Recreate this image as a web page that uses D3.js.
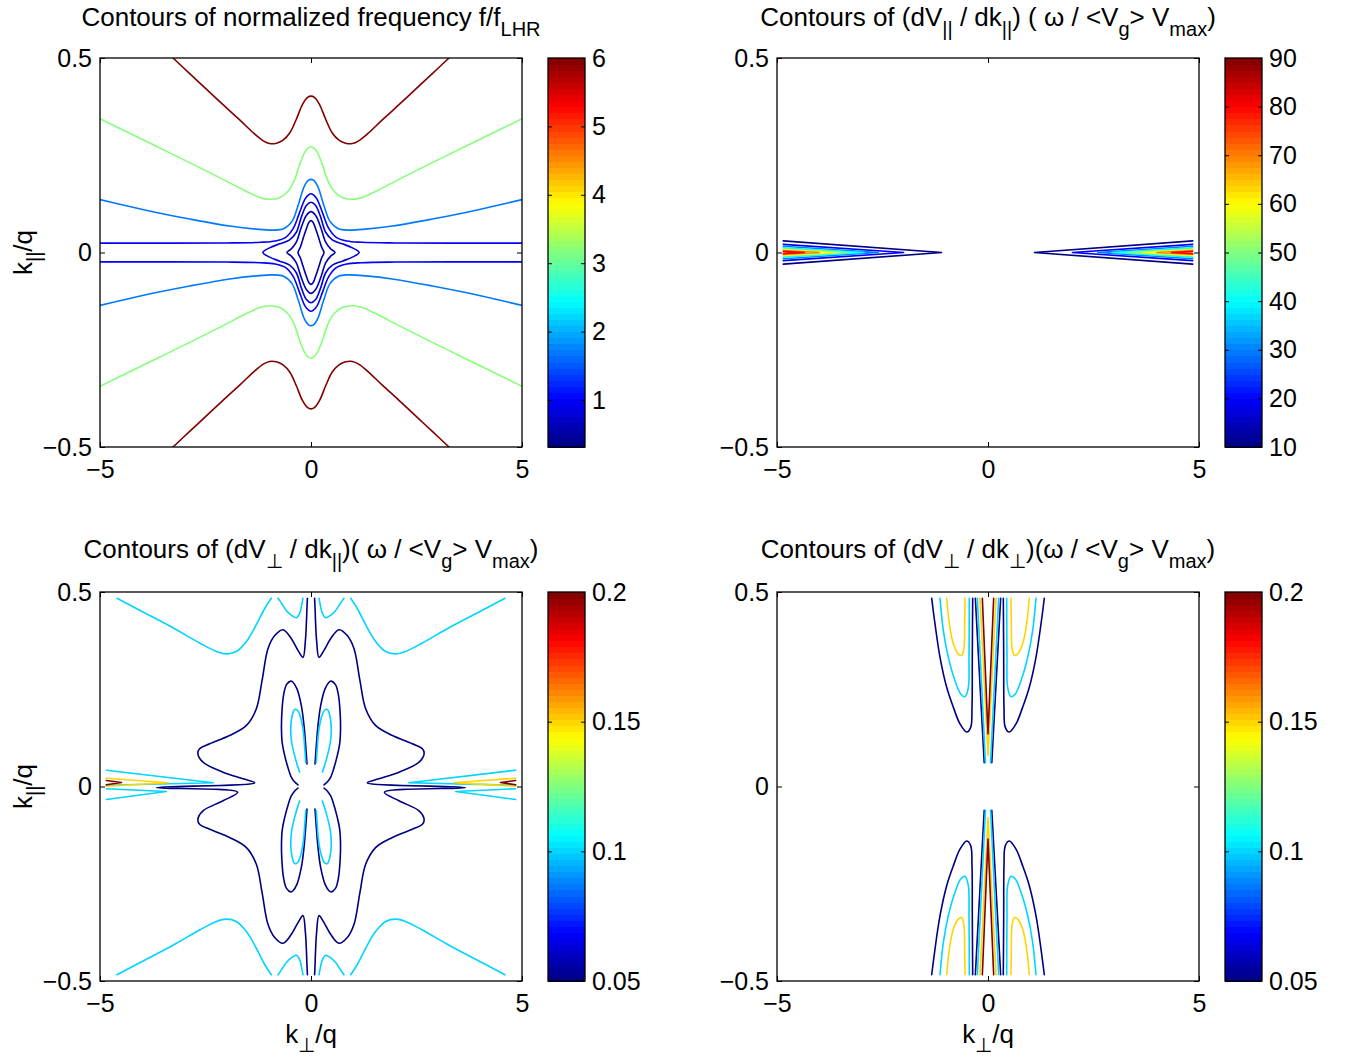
<!DOCTYPE html>
<html><head><meta charset="utf-8">
<script src="https://cdn.jsdelivr.net/npm/d3@7"></script>
<style>
body{margin:0;background:#fff;}
svg text{font-family:'Liberation Sans',Arial,Helvetica,sans-serif;white-space:pre;}
</style></head><body>
<svg id="chart" width="1346" height="1060"></svg>
<script>
// ---------------- DATA ----------------
const xTickValues = [-5, 0, 5];
const xTickLabels = ["\u22125", "0", "5"];
const yTickValues = [-0.5, 0, 0.5];
const yTickLabels = ["\u22120.5", "0", "0.5"];

// Panel 1 : normalized frequency f/f_LHR  (upper-left halves / quadrants, mirrored by symmetry)
const p1ColorRange = [0.313, 6];
const p1ColorTicks = [1, 2, 3, 4, 5, 6];
const p1ColorTickLabels = ["1", "2", "3", "4", "5", "6"];
const p1OpenLevels = [6, 3.2, 1.7, 1.0];
const p1Level6Half = [[-3.27,0.5],[-2.875,0.46],[-2.48,0.42],[-2.085,0.38],[-1.69,0.341],[-1.35,0.306],[-1.13,0.287],[-0.98,0.280],[-0.82,0.281],[-0.663,0.289],[-0.50,0.308],[-0.35,0.342],[-0.2,0.381],[-0.08,0.399],[0,0.402]];
const p1Level32Half = [[-5,0.344],[-4.455,0.315],[-3.665,0.273],[-2.875,0.231],[-2.085,0.188],[-1.532,0.157],[-1.2,0.141],[-1.0,0.137],[-0.75,0.141],[-0.55,0.157],[-0.4,0.184],[-0.25,0.232],[-0.11,0.264],[0,0.272]];
const p1Level17Half = [[-5,0.136],[-4.455,0.122],[-3.665,0.103],[-2.875,0.086],[-1.927,0.068],[-1.295,0.060],[-0.9,0.0575],[-0.65,0.061],[-0.45,0.08],[-0.30,0.123],[-0.16,0.17],[-0.06,0.186],[0,0.188]];
const p1Level10Half = [[-5,0.024],[-2,0.0245],[-1.2,0.0262],[-0.85,0.0295],[-0.6,0.039],[-0.42,0.062],[-0.28,0.1],[-0.14,0.138],[-0.05,0.149],[0,0.151]];
const p1ClosedLevels = [0.8, 0.6, 0.5];
const p1Level08Quad = [[-1.14,0],[-0.98,0.012],[-0.742,0.0223],[-0.506,0.0326],[-0.348,0.052],[-0.229,0.091],[-0.11,0.121],[0,0.129]];
const p1Level06Quad = [[-0.569,0],[-0.466,0.0094],[-0.348,0.0266],[-0.229,0.065],[-0.11,0.095],[0,0.105]];
const p1Level05Quad = [[-0.308,0],[-0.253,0.0137],[-0.19,0.035],[-0.11,0.061],[-0.047,0.078],[0,0.082]];

// Panel 2 : (dV_par/dk_par) wedges along k_par = 0
const p2ColorRange = [10, 90];
const p2ColorTicks = [10, 20, 30, 40, 50, 60, 70, 80, 90];
const p2ColorTickLabels = ["10","20","30","40","50","60","70","80","90"];
const p2Levels = [10, 20, 30, 40, 50, 60, 70, 80];
const p2TipK = [-1.1, -2.0, -2.6, -2.95, -3.3, -3.65, -4.0, -4.35];
const p2EdgeHalfWidth = [0.030, 0.021, 0.016, 0.012, 0.009, 0.007, 0.005, 0.003];
const p2EdgeK = -4.85;

// Panel 3 : (dV_perp/dk_par)
const p3ColorRange = [0.05, 0.2];
const p3ColorTicks = [0.05, 0.1, 0.15, 0.2];
const p3ColorTickLabels = ["0.05", "0.1", "0.15", "0.2"];
const p3CyanOuter = [[-4.597,0.484],[-4.06,0.453],[-3.27,0.408],[-2.64,0.369],[-2.24,0.347],[-2.01,0.341],[-1.77,0.347],[-1.53,0.373],[-1.295,0.416],[-1.10,0.457],[-0.94,0.484]];
const p3CyanTop = [[-0.78,0.484],[-0.68,0.468],[-0.58,0.452],[-0.46,0.44],[-0.345,0.434],[-0.27,0.445],[-0.23,0.461],[-0.19,0.484]];
const p3NavyOuterLeft = [[-0.085,0.484],[-0.095,0.461],[-0.11,0.418],[-0.133,0.375],[-0.19,0.332],[-0.308,0.350],[-0.465,0.380],[-0.663,0.403],[-0.86,0.388],[-1.02,0.354],[-1.16,0.272],[-1.295,0.20],[-1.53,0.157],[-1.93,0.131],[-2.40,0.110],[-2.64,0.097],[-2.68,0.084],[-2.56,0.0626],[-2.085,0.0368],[-1.61,0.0197],[-1.335,0.0094],
  [-3.66,-0.003],
  [-1.74,-0.015],[-2.085,-0.0368],[-2.56,-0.0626],[-2.68,-0.084],[-2.64,-0.097],[-2.40,-0.110],[-1.93,-0.131],[-1.53,-0.157],[-1.295,-0.20],[-1.16,-0.272],[-1.02,-0.354],[-0.86,-0.388],[-0.663,-0.403],[-0.465,-0.380],[-0.308,-0.350],[-0.19,-0.332],[-0.133,-0.375],[-0.11,-0.418],[-0.095,-0.461],[-0.085,-0.484]];
const p3NavyPetal = [[-0.095,0.058],[-0.126,0.105],[-0.166,0.157],[-0.229,0.208],[-0.332,0.251],[-0.427,0.268],[-0.48,0.271],[-0.58,0.262],[-0.65,0.235],[-0.69,0.19],[-0.70,0.15],[-0.68,0.11],[-0.624,0.08],[-0.55,0.05],[-0.47,0.025],[-0.39,0.012],[-0.308,0.0044]];
const p3CyanPetal = [[-0.125,0.062],[-0.15,0.10],[-0.18,0.14],[-0.24,0.175],[-0.32,0.196],[-0.39,0.198],[-0.45,0.18],[-0.48,0.15],[-0.46,0.115],[-0.39,0.08],[-0.31,0.05],[-0.27,0.037]];
const p3WedgeCyanA = [[-4.85,0.0419],[-2.32,0.0095],[-4.85,0.0033]];
const p3WedgeYellow = [[-4.85,0.0213],[-3.39,0.0095],[-4.85,0.0008]];
const p3WedgeRed = [[-4.85,0.0154],[-4.49,0.0103],[-4.85,0.0044]];
const p3WedgeCyanB = [[-4.85,-0.0059],[-3.43,-0.0129],[-4.85,-0.0334]];

// Panel 4 : (dV_perp/dk_perp)
const p4ColorRange = [0.05, 0.2];
const p4ColorTicks = [0.05, 0.1, 0.15, 0.2];
const p4ColorTickLabels = ["0.05", "0.1", "0.15", "0.2"];
const p4NavyU = [[-1.334,0.484],[-1.256,0.418],[-1.137,0.332],[-0.979,0.255],[-0.822,0.204],[-0.664,0.161],[-0.505,0.140],[-0.41,0.152],[-0.379,0.204],[-0.372,0.332],[-0.363,0.484]];
const p4CyanU = [[-1.137,0.484],[-1.058,0.401],[-0.94,0.332],[-0.782,0.272],[-0.648,0.238],[-0.545,0.231],[-0.466,0.255],[-0.45,0.332],[-0.443,0.484]];
const p4YellowU = [[-0.979,0.484],[-0.916,0.418],[-0.822,0.367],[-0.703,0.341],[-0.624,0.337],[-0.569,0.358],[-0.553,0.418],[-0.545,0.484]];
const p4NavyV = [[-0.30,0.484],[-0.09,0.061]];
const p4CyanV = [[-0.253,0.484],[-0.06,0.061]];
const p4YellowV = [[-0.19,0.484],[0,0.08]];
const p4RedV = [[-0.134,0.484],[0,0.135]];

// Titles: [text, isSubscript]
const titleP1 = [["Contours of normalized frequency f/f",0],["LHR",1]];
const titleP2 = [["Contours of (dV",0],["||",1],[" / dk",0],["||",1],[") ( \u03c9 / <V",0],["g",1],["> V",0],["max",1],[")",0]];
const titleP3 = [["Contours of (dV",0],["\u22a5",1],[" / dk",0],["||",1],[")( \u03c9 / <V",0],["g",1],["> V",0],["max",1],[")",0]];
const titleP4 = [["Contours of (dV",0],["\u22a5",1],[" / dk",0],["\u22a5",1],[")(\u03c9 / <V",0],["g",1],["> V",0],["max",1],[")",0]];
const yLabelText = [["k",0],["||",1],["/q",0]];
const xLabelText = [["k",0],["\u22a5",1],["/q",0]];

// ---------------- HELPERS ----------------
const FONT = "'Liberation Sans', Arial, Helvetica, sans-serif";
const FS = 25;
function jet(t){
  t = Math.max(0, Math.min(1, t));
  const c = v => Math.max(0, Math.min(1, v));
  return d3.rgb(255*c(1.5-Math.abs(4*t-3)), 255*c(1.5-Math.abs(4*t-2)), 255*c(1.5-Math.abs(4*t-1))).formatHex();
}
const mirrorK = p => p.map(d => [-d[0], d[1]]);
const mirrorQ = p => p.map(d => [d[0], -d[1]]);
const fullUpper = h => h.concat(mirrorK(h).reverse().slice(1));
function closedLoop(q){
  const up = fullUpper(q);
  const low = mirrorQ(up).reverse().slice(1, -1);
  return up.concat(low);
}
const four = p => [p, mirrorK(p), mirrorQ(p), mirrorK(mirrorQ(p))];

function richText(sel, segs, fs, subfs, subdy){
  let sub = false;
  segs.forEach(([t, s]) => {
    const ts = sel.append('tspan').text(t).attr('font-size', s ? subfs : fs);
    if (s && !sub) ts.attr('dy', subdy);
    if (!s && sub) ts.attr('dy', -subdy);
    sub = !!s;
  });
}

// ---------------- BUILD CONTOUR LISTS ----------------
const cmap = r => v => jet((v - r[0]) / (r[1] - r[0]));

const p1Items = [];
{
  const col = cmap(p1ColorRange);
  [p1Level6Half, p1Level32Half, p1Level17Half, p1Level10Half].forEach((h, i) => {
    const up = fullUpper(h);
    p1Items.push({pts: up, color: col(p1OpenLevels[i])});
    p1Items.push({pts: mirrorQ(up), color: col(p1OpenLevels[i])});
  });
  [p1Level08Quad, p1Level06Quad, p1Level05Quad].forEach((q, i) => {
    p1Items.push({pts: closedLoop(q), color: col(p1ClosedLevels[i]), closed: true});
  });
}
const p2Items = [];
{
  const col = cmap(p2ColorRange);
  p2Levels.forEach((lv, i) => {
    const w = [[p2EdgeK, p2EdgeHalfWidth[i]], [p2TipK[i], 0], [p2EdgeK, -p2EdgeHalfWidth[i]]];
    p2Items.push({pts: w, color: col(lv), linear: true});
    p2Items.push({pts: mirrorK(w), color: col(lv), linear: true});
  });
}
const p3Items = [];
{
  const col = cmap(p3ColorRange);
  const navy = col(0.05), cyan = col(0.1), yel = col(0.15), red = col(0.2);
  four(p3CyanOuter).forEach(p => p3Items.push({pts: p, color: cyan}));
  four(p3CyanTop).forEach(p => p3Items.push({pts: p, color: cyan}));
  [p3NavyOuterLeft, mirrorK(p3NavyOuterLeft)].forEach(p => p3Items.push({pts: p, color: navy}));
  four(p3NavyPetal).forEach(p => p3Items.push({pts: p, color: navy}));
  four(p3CyanPetal).forEach(p => p3Items.push({pts: p, color: cyan}));
  [[p3WedgeCyanA, cyan], [p3WedgeCyanB, cyan], [p3WedgeYellow, yel], [p3WedgeRed, red]].forEach(([w, c]) => {
    p3Items.push({pts: w, color: c, linear: true});
    p3Items.push({pts: mirrorK(w), color: c, linear: true});
  });
}
const p4Items = [];
{
  const col = cmap(p4ColorRange);
  const navy = col(0.05), cyan = col(0.1), yel = col(0.15), red = col(0.2);
  four(p4NavyU).forEach(p => p4Items.push({pts: p, color: navy}));
  four(p4CyanU).forEach(p => p4Items.push({pts: p, color: cyan}));
  four(p4YellowU).forEach(p => p4Items.push({pts: p, color: yel}));
  four(p4NavyV).forEach(p => p4Items.push({pts: p, color: navy, linear: true}));
  four(p4CyanV).forEach(p => p4Items.push({pts: p, color: cyan, linear: true}));
  [fullUpper(p4YellowV), mirrorQ(fullUpper(p4YellowV))].forEach(p => p4Items.push({pts: p, color: yel, linear: true}));
  [fullUpper(p4RedV), mirrorQ(fullUpper(p4RedV))].forEach(p => p4Items.push({pts: p, color: red, linear: true}));
}

// ---------------- LAYOUT ----------------
const panels = [
  {id:'p1', x0:100, x1:522, y0:58, y1:447, cbX:548, title:titleP1, titleY:26, ylab:true, xlab:false, cr:p1ColorRange, ct:p1ColorTicks, cl:p1ColorTickLabels, items:p1Items},
  {id:'p2', x0:777, x1:1199, y0:58, y1:447, cbX:1225, title:titleP2, titleY:26, ylab:false, xlab:false, cr:p2ColorRange, ct:p2ColorTicks, cl:p2ColorTickLabels, items:p2Items},
  {id:'p3', x0:100, x1:522, y0:592, y1:981, cbX:548, title:titleP3, titleY:558, ylab:true, xlab:true, cr:p3ColorRange, ct:p3ColorTicks, cl:p3ColorTickLabels, items:p3Items},
  {id:'p4', x0:777, x1:1199, y0:592, y1:981, cbX:1225, title:titleP4, titleY:558, ylab:false, xlab:true, cr:p4ColorRange, ct:p4ColorTicks, cl:p4ColorTickLabels, items:p4Items}
];
const CBW = 37;

const svg = d3.select('#chart');
svg.append('rect').attr('width', 1346).attr('height', 1060).attr('fill', '#fff');
const defs = svg.append('defs');

function styleAxis(g){
  g.attr('font-size', FS).attr('font-family', FONT).attr('color', '#000');
  g.select('.domain').remove();
  g.selectAll('.tick line').attr('stroke', '#000').attr('stroke-width', 1);
}

panels.forEach(P => {
  const x = d3.scaleLinear().domain([-5, 5]).range([P.x0, P.x1]);
  const y = d3.scaleLinear().domain([-0.5, 0.5]).range([P.y1, P.y0]);
  const g = svg.append('g');

  defs.append('clipPath').attr('id', 'clip-' + P.id)
    .append('rect').attr('x', P.x0).attr('y', P.y0).attr('width', P.x1 - P.x0).attr('height', P.y1 - P.y0);

  const curved = d3.line().x(d => x(d[0])).y(d => y(d[1])).curve(d3.curveCatmullRom.alpha(0.5));
  const closed = d3.line().x(d => x(d[0])).y(d => y(d[1])).curve(d3.curveCatmullRomClosed.alpha(0.5));
  const straight = d3.line().x(d => x(d[0])).y(d => y(d[1]));

  const cg = g.append('g').attr('clip-path', `url(#clip-${P.id})`);
  cg.selectAll('path').data(P.items).join('path')
    .attr('d', d => d.closed ? closed(d.pts) : (d.linear ? straight(d.pts) : curved(d.pts)))
    .attr('fill', 'none').attr('stroke', d => d.color).attr('stroke-width', 1.6)
    .attr('stroke-linejoin', 'round').attr('stroke-linecap', 'round');

  // axes
  const fmtX = d => xTickLabels[xTickValues.indexOf(d)];
  const fmtY = d => yTickLabels[yTickValues.indexOf(d)];
  styleAxis(g.append('g').attr('transform', `translate(0,${P.y1})`)
    .call(d3.axisBottom(x).tickValues(xTickValues).tickFormat(fmtX).tickSize(-5).tickSizeOuter(0).tickPadding(13)));
  styleAxis(g.append('g').attr('transform', `translate(0,${P.y0})`)
    .call(d3.axisTop(x).tickValues(xTickValues).tickFormat('').tickSize(-5).tickSizeOuter(0)));
  styleAxis(g.append('g').attr('transform', `translate(${P.x0},0)`)
    .call(d3.axisLeft(y).tickValues(yTickValues).tickFormat(fmtY).tickSize(-5).tickSizeOuter(0).tickPadding(8)));
  styleAxis(g.append('g').attr('transform', `translate(${P.x1},0)`)
    .call(d3.axisRight(y).tickValues(yTickValues).tickFormat('').tickSize(-5).tickSizeOuter(0)));
  g.append('rect').attr('x', P.x0).attr('y', P.y0).attr('width', P.x1 - P.x0).attr('height', P.y1 - P.y0)
    .attr('fill', 'none').attr('stroke', '#000').attr('stroke-width', 1.3);

  // colorbar
  const cy = d3.scaleLinear().domain(P.cr).range([P.y1, P.y0]);
  const N = 64;
  const bands = d3.range(N).map(i => ({v0: P.cr[0] + i * (P.cr[1] - P.cr[0]) / N, v1: P.cr[0] + (i + 1) * (P.cr[1] - P.cr[0]) / N, t: (i + 0.5) / N}));
  g.append('g').attr('shape-rendering', 'crispEdges').selectAll('rect').data(bands).join('rect')
    .attr('x', P.cbX).attr('width', CBW)
    .attr('y', d => cy(d.v1)).attr('height', d => cy(d.v0) - cy(d.v1) + 0.6)
    .attr('fill', d => jet(d.t));
  const fmtC = d => P.cl[P.ct.indexOf(d)];
  styleAxis(g.append('g').attr('transform', `translate(${P.cbX + CBW},0)`)
    .call(d3.axisRight(cy).tickValues(P.ct).tickFormat(fmtC).tickSize(-4).tickSizeOuter(0).tickPadding(7)));
  styleAxis(g.append('g').attr('transform', `translate(${P.cbX},0)`)
    .call(d3.axisLeft(cy).tickValues(P.ct).tickFormat('').tickSize(-4).tickSizeOuter(0)));
  g.append('rect').attr('x', P.cbX).attr('y', P.y0).attr('width', CBW).attr('height', P.y1 - P.y0)
    .attr('fill', 'none').attr('stroke', '#000').attr('stroke-width', 1.3);

  // title
  const cx = (P.x0 + P.x1) / 2;
  richText(g.append('text').attr('x', cx).attr('y', P.titleY).attr('text-anchor', 'middle')
    .attr('font-family', FONT).attr('fill', '#000'), P.title, 26, 20, 10);
  if (P.ylab) {
    richText(g.append('text').attr('transform', `translate(32,${(P.y0 + P.y1) / 2}) rotate(-90)`)
      .attr('text-anchor', 'middle').attr('font-family', FONT).attr('fill', '#000'), yLabelText, 26, 20, 9);
  }
  if (P.xlab) {
    richText(g.append('text').attr('x', cx).attr('y', 1043).attr('text-anchor', 'middle')
      .attr('font-family', FONT).attr('fill', '#000'), xLabelText, 26, 20, 9);
  }
});
</script>
</body></html>
